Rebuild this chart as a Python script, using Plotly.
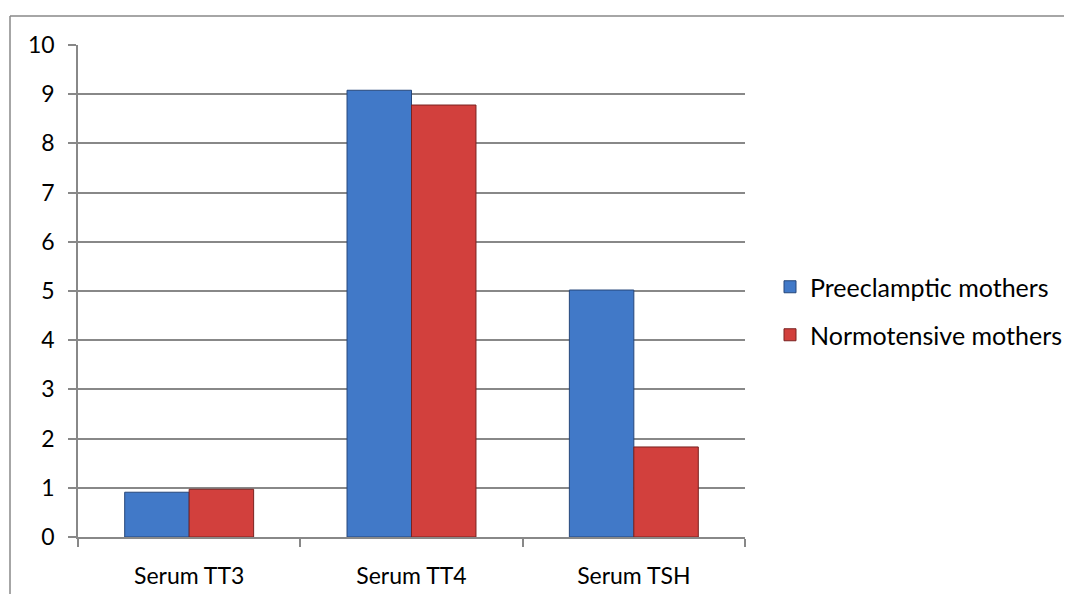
import plotly.graph_objects as go

categories = ["Serum TT3", "Serum TT4", "Serum TSH"]
preeclamptic = [0.91, 9.08, 5.02]
normotensive = [0.97, 8.78, 1.83]
y_ticks = list(range(0, 11))

# the page body has an 8px margin; work in page pixels and shift
OFF = 8
W, H = 1072 - OFF, 594 - OFF
L, R, T, B = 78 - OFF, 745 - OFF, 45 - OFF, 537 - OFF
pw, ph = R - L, B - T

def px_x(x):
    return (x - OFF - L) / pw

def px_y(y):
    return (B - (y - OFF)) / ph

font = "Lato, 'Open Sans', sans-serif"

fig = go.Figure()
fig.add_trace(go.Bar(
    x=categories, y=preeclamptic, name="Preeclamptic mothers",
    marker=dict(color="#4179c8", line=dict(color="#26477a", width=1)),
    legend="legend",
))
fig.add_trace(go.Bar(
    x=categories, y=normotensive, name="Normotensive mothers",
    marker=dict(color="#d2403d", line=dict(color="#7a2220", width=1)),
    legend="legend2",
))

fig.update_layout(
    width=W, height=H,
    margin=dict(l=L, r=W - R, t=T, b=H - B, autoexpand=False),
    paper_bgcolor="white", plot_bgcolor="white",
    barmode="group", bargap=0.42, bargroupgap=0,
    font=dict(family=font, size=23, color="#000000"),
    legend=dict(x=px_x(770), y=px_y(287), xanchor="left", yanchor="middle",
                font=dict(size=25), bgcolor="rgba(0,0,0,0)"),
    legend2=dict(x=px_x(770), y=px_y(335), xanchor="left", yanchor="middle",
                 font=dict(size=25), bgcolor="rgba(0,0,0,0)"),
    showlegend=True,
)
fig.update_xaxes(
    type="category", showgrid=False, showline=True, linecolor="#888888", linewidth=1.5,
    ticks="outside", tickson="boundaries", ticklen=8, tickcolor="#888888", tickwidth=1.5,
    tickfont=dict(size=23), automargin=False, ticklabelstandoff=18,
)
fig.update_yaxes(
    range=[0, 10], tickvals=y_ticks, showgrid=True, gridcolor="#888888", gridwidth=1.5,
    showline=True, linecolor="#888888", linewidth=1.5, zeroline=False,
    ticks="outside", ticklen=8, tickcolor="#888888", tickwidth=1.5,
    tickfont=dict(size=23), automargin=False, ticklabelstandoff=9,
)

# outer chart frame (partially cropped)
fig.add_shape(type="line", xref="paper", yref="paper",
              x0=px_x(10), y0=px_y(16), x1=px_x(1080), y1=px_y(16),
              line=dict(color="#888888", width=1.5))
fig.add_shape(type="line", xref="paper", yref="paper",
              x0=px_x(10), y0=px_y(16), x1=px_x(10), y1=px_y(600),
              line=dict(color="#888888", width=1.5))

fig.write_html("out.html")
